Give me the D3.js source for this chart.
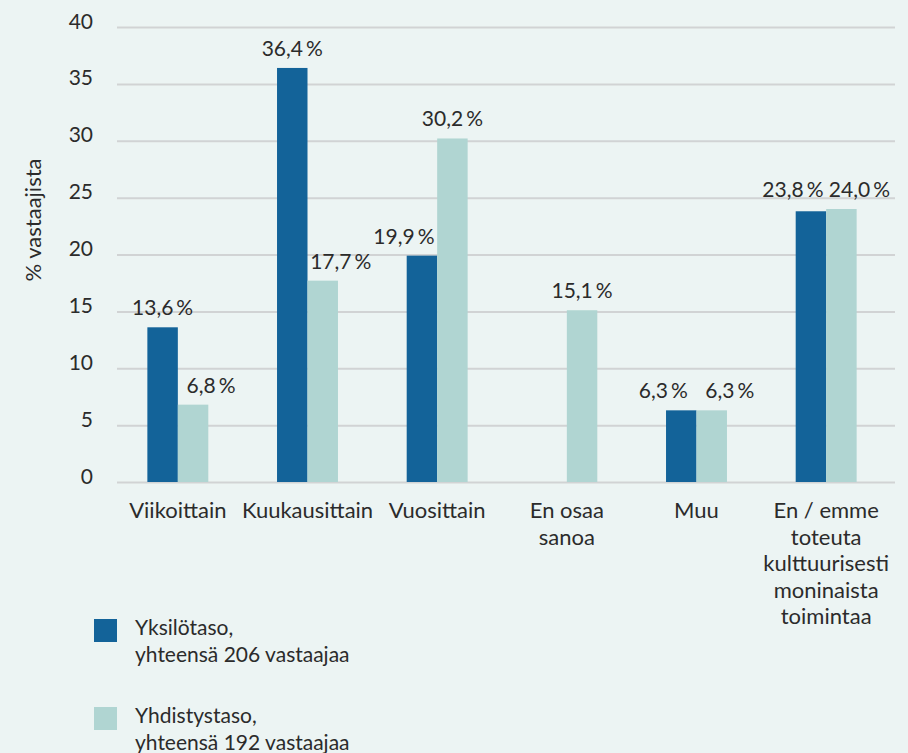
<!DOCTYPE html>
<html><head><meta charset="utf-8">
<script src="https://cdn.jsdelivr.net/npm/d3@7"></script>
<style>
html,body{margin:0;padding:0;background:#ecf4f3;}
svg{display:block;font-family:Lato,"Open Sans",sans-serif;}
</style></head>
<body><svg id="c" width="908" height="753"></svg>
<script>
const categories = [["Viikoittain"],["Kuukausittain"],["Vuosittain"],["En osaa","sanoa"],["Muu"],["En / emme","toteuta","kulttuurisesti","moninaista","toimintaa"]];
const seriesNames = [["Yksilötaso,","yhteensä 206 vastaajaa"],["Yhdistystaso,","yhteensä 192 vastaajaa"]];
const yksilo = [13.6, 36.4, 19.9, null, 6.3, 23.8];
const yhdistys = [6.8, 17.7, 30.2, 15.1, 6.3, 24.0];
const yTicks = [0,5,10,15,20,25,30,35,40];
const colors = ["#136399","#b0d5d2"];
const textColor = "#2b2b2b";

const svg = d3.select("#c");
const idx = d3.range(categories.length);
const x = d3.scaleBand().domain(idx).range([113, 891]).paddingInner(0.53).paddingOuter(0.265);
const x1 = d3.scaleBand().domain([0,1]).range([0, x.bandwidth()]);
const y = d3.scaleLinear().domain([0,40]).range([482, 27]);

// grid + y ticks
const gridG = svg.append("g")
  .call(d3.axisLeft(y).tickValues(yTicks).tickSize(0).tickFormat(d=>d));
gridG.select(".domain").remove();
gridG.selectAll(".tick line").attr("x1",117).attr("x2",895).attr("stroke","#d1d3d4").attr("stroke-width",2);
gridG.selectAll(".tick text").attr("x",93).attr("dy","0.05em").attr("fill",textColor)
  .style("font-size","21px").style("font-family","Lato");

// y title
svg.append("text").attr("transform","translate(41,220) rotate(-90)").attr("text-anchor","middle")
  .attr("fill",textColor).style("font-size","22px").text("% vastaajista");

const series = [yksilo, yhdistys];
const fmt = v => d3.format(".1f")(v).replace(".",",");
series.forEach((vals,s)=>{
  const other = series[1-s];
  const present = idx.filter(i=>vals[i]!=null);
  const g = svg.append("g");
  g.selectAll("rect").data(present).join("rect")
    .attr("x", i=>x(i)+x1(s)).attr("width", x1.bandwidth())
    .attr("y", i=>y(vals[i])).attr("height", i=>y(0)-y(vals[i]))
    .attr("fill", colors[s]);
  // label: shift away from a neighbouring bar/label that is taller or near the same height
  const crowded = i => other[i]!=null && other[i] > vals[i] - 3;
  const labelVal = i => (other[i]!=null && Math.abs(other[i]-vals[i])<1) ? Math.max(vals[i], other[i]) : vals[i];
  const lab = g.selectAll("text").data(present).join("text")
    .attr("x", i=>x(i)+x1(s)+x1.bandwidth()/2 + (crowded(i) ? (s===0 ? -18 : 18) : 0))
    .attr("y", i=>y(labelVal(i))-12)
    .attr("text-anchor","middle").attr("fill",textColor).style("font-size","21px");
  lab.append("tspan").text(i=>fmt(vals[i]));
  lab.append("tspan").attr("dx",3).text("%");
});

// x labels
const xl = svg.append("g");
idx.forEach(i=>{
  const t = xl.append("text").attr("text-anchor","middle").attr("fill",textColor).style("font-size","22px");
  categories[i].forEach((line,k)=>{
    t.append("tspan").attr("x", x(i)+x.bandwidth()/2).attr("y", 518+k*26.5).text(line);
  });
});

// legend
seriesNames.forEach((lines,s)=>{
  const gy = 619 + s*88;
  svg.append("rect").attr("x",94).attr("y",gy).attr("width",23).attr("height",23).attr("fill",colors[s]);
  const t = svg.append("text").attr("fill",textColor).style("font-size","21px");
  lines.forEach((l,k)=>t.append("tspan").attr("x",135).attr("y",gy+16+k*27).text(l));
});
</script></body></html>
